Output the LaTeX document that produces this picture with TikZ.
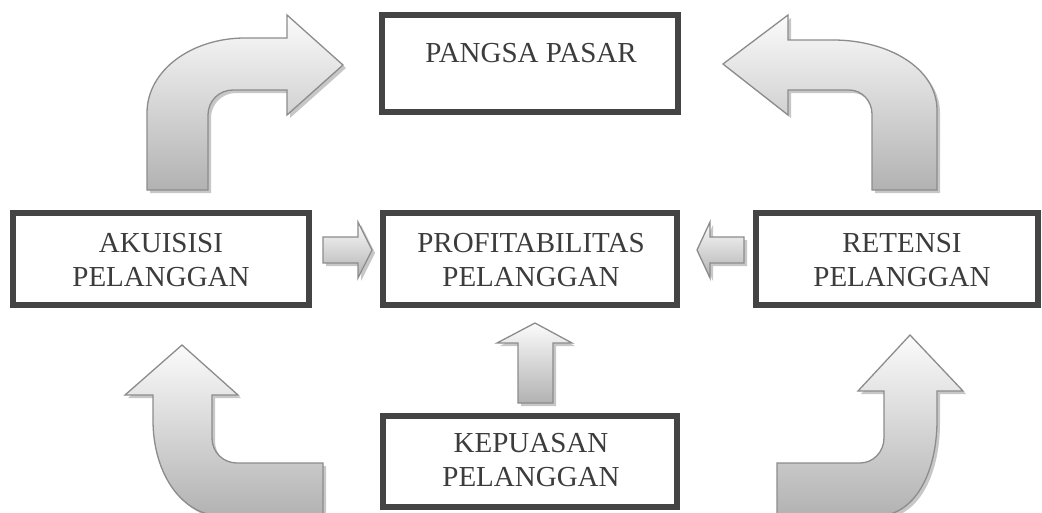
\documentclass[tikz,border=0pt]{standalone}
\usepackage{fontspec}
\setmainfont{Liberation Serif}
\usetikzlibrary{shadows}
\definecolor{boxline}{HTML}{444444}
\definecolor{textgray}{HTML}{3C3C3C}
\definecolor{arrowline}{HTML}{8C8C8C}
\definecolor{arrowlight}{HTML}{FBFBFB}
\definecolor{arrowdark}{HTML}{B2B2B2}
\tikzset{
  box/.style={draw=boxline, line width=6pt, fill=white, inner sep=0pt},
  boxtext/.style={text=textgray, align=center, inner sep=0pt,
    font=\fontsize{29}{34}\selectfont},
  blockarrow/.style={draw=arrowline, line width=1.3pt, line join=miter,
    top color=arrowlight, bottom color=arrowdark,
    drop shadow={shadow xshift=3pt, shadow yshift=-3pt, fill=black, opacity=0.22}},
}
\begin{document}
\begin{tikzpicture}[x=1pt,y=-1pt]
\useasboundingbox (0,0) rectangle (1042,512);
\clip (0,0) rectangle (1042,512);
\fill[white] (0,0) rectangle (1042,512);

% boxes
\node[box, minimum width=296pt, minimum height=97pt] (pangsa) at (530,63.5) {};
\node[box, minimum width=296pt, minimum height=92pt] (aku) at (161,259) {};
\node[box, minimum width=294pt, minimum height=92pt] (profit) at (530,259) {};
\node[box, minimum width=282pt, minimum height=92pt] (retensi) at (897,259) {};
\node[box, minimum width=294pt, minimum height=91pt] (kepuasan) at (530,461.5) {};

% texts
\node[boxtext] (tpangsa) at (531,53) {PANGSA PASAR};
\node[boxtext] (taku) at (161,260.5) {AKUISISI\\PELANGGAN};
\node[boxtext] (tprofit) at (531,260.5) {PROFITABILITAS\\PELANGGAN};
\node[boxtext] (tretensi) at (902,260.5) {RETENSI\\PELANGGAN};
\node[boxtext] (tkepuasan) at (531,460.5) {KEPUASAN\\PELANGGAN};

% curved arrows
% top-left: akuisisi -> pangsa pasar
\path[blockarrow] (147,190) -- (147,113) .. controls (147,70) and (192,38) .. (245,38)
  -- (287,38) -- (287,15) -- (343,65) -- (287,115) -- (287,90) -- (233,90)
  .. controls (219,90) and (208,101) .. (208,115) -- (208,190) -- cycle;
% top-right: retensi -> pangsa pasar
\path[blockarrow] (937,190) -- (937,110) .. controls (937,68) and (888,40) .. (833,40)
  -- (788,40) -- (788,15) -- (723,64) -- (788,115) -- (788,90) -- (849,90)
  .. controls (862,90) and (872,101) .. (872,114) -- (872,190) -- cycle;
% bottom-left: kepuasan -> akuisisi
\path[blockarrow] (182,345) -- (238,395) -- (212,395) -- (212,438)
  .. controls (212,452) and (223,463) .. (237,463) -- (323,463) -- (323,516)
  -- (222,516) .. controls (183,516) and (153,475) .. (153,420) -- (153,395)
  -- (125,395) -- cycle;
% bottom-right: kepuasan -> retensi
\path[blockarrow] (910,335) -- (963,391) -- (937,391) -- (937,420)
  .. controls (937,474) and (914,516) .. (877,516) -- (777,516) -- (777,463)
  -- (860,463) .. controls (873,463) and (884,452) .. (884,438) -- (884,391)
  -- (858,391) -- cycle;

% small straight arrows
\path[blockarrow] (323,237) -- (358,237) -- (358,222) -- (372,250) -- (358,278)
  -- (358,263) -- (323,263) -- cycle;
\path[blockarrow] (744,237) -- (710,237) -- (710,222) -- (697,250) -- (710,278)
  -- (710,263) -- (744,263) -- cycle;
\path[blockarrow] (535,323) -- (572,343) -- (553,343) -- (553,403) -- (518,403)
  -- (518,343) -- (497,343) -- cycle;
\end{tikzpicture}
\end{document}
